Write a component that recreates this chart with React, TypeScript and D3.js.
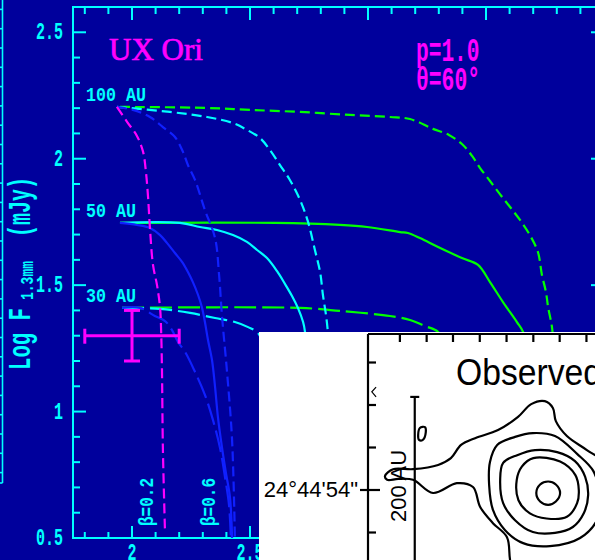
import React from 'react';
import * as d3 from 'd3';

type Pt = [number, number];

const BG = '#00009c';
const CYAN = '#00ffff';
const MAGENTA = '#ff00ff';
const GREEN = '#00ff00';
const BLUE = '#1020ff';
const MONO = "'Liberation Mono', 'Courier New', monospace";
const SERIF = "'Liberation Serif', 'Times New Roman', serif";
const SANS = "'Liberation Sans', Arial, sans-serif";

// ---- model curves, 100 AU disks (short dashes)
const r100Magenta: Pt[] = [[1.936, 2.205], [1.979, 2.146], [2.021, 2.09], [2.047, 2.027], [2.059, 1.948], [2.068, 1.849], [2.076, 1.726], [2.089, 1.58], [2.106, 1.5], [2.119, 1.41], [2.124, 1.3], [2.127, 1.164], [2.131, 0.848], [2.14, 0.52]];
const r100Blue: Pt[] = [[1.936, 2.205], [2.004, 2.193], [2.076, 2.165], [2.131, 2.125], [2.182, 2.086], [2.216, 2.027], [2.237, 1.975], [2.267, 1.916], [2.309, 1.797], [2.352, 1.686], [2.369, 1.54], [2.381, 1.382], [2.403, 1.153], [2.424, 0.888], [2.436, 0.5]];
const r100Cyan: Pt[] = [[1.936, 2.205], [2.161, 2.185], [2.318, 2.165], [2.428, 2.141], [2.487, 2.114], [2.542, 2.082], [2.585, 2.034], [2.627, 1.975], [2.669, 1.916], [2.712, 1.837], [2.746, 1.75], [2.775, 1.639], [2.797, 1.552], [2.809, 1.461], [2.822, 1.382], [2.83, 1.315], [2.84, 1.2]];
const r100Green: Pt[] = [[1.949, 2.205], [2.309, 2.201], [2.5, 2.193], [2.712, 2.185], [2.924, 2.173], [3.093, 2.165], [3.178, 2.157], [3.275, 2.118], [3.343, 2.094], [3.398, 2.058], [3.441, 2.011], [3.475, 1.963], [3.517, 1.912], [3.559, 1.86], [3.602, 1.809], [3.644, 1.758], [3.686, 1.698], [3.72, 1.631], [3.737, 1.54], [3.754, 1.473], [3.763, 1.414], [3.78, 1.331], [3.79, 1.2]];

// ---- 50 AU disks (solid)
const r50Blue: Pt[] = [[1.949, 1.746], [2.021, 1.738], [2.076, 1.726], [2.119, 1.698], [2.148, 1.667], [2.182, 1.627], [2.212, 1.592], [2.237, 1.552], [2.258, 1.512], [2.28, 1.461], [2.297, 1.41], [2.309, 1.354], [2.322, 1.283], [2.339, 1.204], [2.352, 1.097], [2.364, 0.979], [2.381, 0.86], [2.398, 0.757], [2.415, 0.662], [2.424, 0.5]];
const r50Cyan: Pt[] = [[1.949, 1.746], [2.203, 1.746], [2.288, 1.73], [2.36, 1.718], [2.428, 1.698], [2.487, 1.671], [2.53, 1.639], [2.572, 1.607], [2.614, 1.556], [2.648, 1.505], [2.678, 1.457], [2.703, 1.41], [2.725, 1.354], [2.733, 1.315], [2.74, 1.2]];
const r50Green: Pt[] = [[1.949, 1.746], [2.606, 1.746], [2.881, 1.738], [2.996, 1.73], [3.136, 1.71], [3.169, 1.706], [3.22, 1.686], [3.297, 1.651], [3.398, 1.607], [3.466, 1.58], [3.517, 1.512], [3.572, 1.433], [3.631, 1.354], [3.657, 1.315], [3.68, 1.2]];

// ---- 30 AU disks (long dashes)
const r30Blue: Pt[] = [[1.958, 1.41], [2.034, 1.41], [2.097, 1.378], [2.14, 1.358], [2.169, 1.323], [2.195, 1.275], [2.225, 1.236], [2.267, 1.157], [2.309, 1.066], [2.343, 0.967], [2.373, 0.856], [2.394, 0.741], [2.411, 0.631], [2.419, 0.5]];
const r30Cyan: Pt[] = [[1.958, 1.41], [2.119, 1.406], [2.246, 1.39], [2.352, 1.37], [2.436, 1.354], [2.492, 1.334], [2.534, 1.311], [2.56, 1.25]];
const r30Green: Pt[] = [[1.958, 1.41], [2.712, 1.41], [2.881, 1.398], [3.093, 1.378], [3.178, 1.362], [3.242, 1.338], [3.297, 1.315], [3.33, 1.25]];

const xTicks = [2, 2.5, 3, 3.5, 4];
const xTickText = ['2', '2.5', '3', '3.5', '4'];
const yTicks = [0.5, 1, 1.5, 2, 2.5];
const yTickText = ['0.5', '1', '1.5', '2', '2.5'];

const radiusText = ['100 AU', '50 AU', '30 AU'];
const radiusLogF = [2.205, 1.747, 1.41];

const betaText = ['β=0.2', 'β=0.6'];
const betaX = [2.089, 2.352];

// measured flux with error bars
const observed = { x: 2.0, y: 1.3, dx: 0.2, dy: 0.1 };

// ---- map inset, offsets in arcsec
const decTicks = [3, 2, 1, 0, -1];
const raTicks = [0.75, 1.38, 2.0, 2.63, 3.26, 3.89, 4.51, 5.14];
const cPeak: Pt[] = [[4.24, 0.2], [4.42, 0.13], [4.52, -0.07], [4.42, -0.27], [4.24, -0.35], [4.05, -0.27], [3.96, -0.07], [4.05, 0.13]];
const c2: Pt[] = [[3.89, 0.75], [4.52, 0.67], [4.88, 0.35], [4.96, 0], [4.92, -0.31], [4.68, -0.63], [4.2, -0.67], [3.81, -0.55], [3.54, -0.24], [3.5, 0.24], [3.62, 0.55]];
const c3: Pt[] = [[3.11, 0.24], [3.18, 0.64], [3.51, 0.82], [3.93, 0.94], [4.45, 0.89], [4.87, 0.68], [5.11, 0.31], [5.18, -0.12], [5.08, -0.54], [4.82, -0.87], [4.4, -1.01], [3.88, -0.99], [3.46, -0.71], [3.18, -0.31]];
const c4: Pt[] = [[2.87, 0.66], [3.04, 1.06], [3.46, 1.25], [3.88, 1.34], [4.4, 1.27], [4.92, 0.85], [5.3, 0.45], [5.45, -0.1], [5.41, -0.66], [4.99, -1.13], [4.28, -1.32], [3.65, -1.25], [3.22, -0.94], [2.94, -0.47], [2.85, 0.12]];
const cOuter: Pt[] = [[0.4, 0.33], [0.59, 0.49], [1.06, 0.49], [1.65, 0.59], [1.95, 0.75], [2.19, 1.06], [2.52, 1.22], [3.06, 1.41], [3.53, 1.72], [3.84, 2.02], [4.16, 2.09], [4.35, 1.93], [4.42, 1.62], [4.68, 1.27], [5.15, 0.94], [5.6, 0.6], [5.75, -0.3], [5.5, -1.3], [5.2, -2.0], [4.5, -2.9], [3.41, -1.88], [3.27, -1.11], [2.94, -0.78], [2.64, -0.4], [2.47, 0.07], [2.09, 0.16], [1.53, -0.07], [1.06, 0.24], [0.71, 0.26], [0.45, 0.24]];
const cBlob: Pt[] = [[1.22, 1.46], [1.34, 1.48], [1.36, 1.36], [1.29, 1.18], [1.2, 1.18], [1.18, 1.29]];
const cEdge: Pt[] = [[0.19, 2.42], [0.09, 2.31], [0.19, 2.19]];
const scaleBar = { ra: 1.1, top: 2.19, bottom: -2.6 };

function Mono(props: { x: number; y: number; text: string; size: number; cw: number; anchor?: string; rotate?: number; fill?: string }) {
  const { x, y, text, size, cw, anchor = 'start', rotate = 0, fill = CYAN } = props;
  return (
    <text
      transform={`translate(${x},${y}) rotate(${rotate})`}
      fontFamily={MONO}
      fontWeight="bold"
      fontSize={size}
      textAnchor={anchor}
      textLength={text.length * cw}
      lengthAdjust="spacingAndGlyphs"
      fill={fill}
    >
      {text}
    </text>
  );
}

export default function App() {
  const W = 595;
  const H = 560;
  const frame = { left: 73, right: 604, top: 7, bottom: 538 };
  const x = d3.scaleLinear().domain([1.75, 4.0]).range([frame.left, frame.right]);
  const y = d3.scaleLinear().domain([0.5, 2.6]).range([frame.bottom, frame.top]);
  const curve = d3.line<Pt>().x((d) => x(d[0])).y((d) => y(d[1])).curve(d3.curveCatmullRom.alpha(0.5));

  const isMajor = (v: number, arr: number[]) => arr.some((t) => Math.abs(t - v) < 1e-6);
  const minorX = d3.range(18, 41).map((v) => v / 10).filter((v) => !isMajor(v, xTicks));
  const minorY = d3.range(6, 26).map((v) => v / 10).filter((v) => !isMajor(v, yTicks));

  const SHORT = '10 5';
  const LONG = '22 6';
  const series = [
    { pts: r100Green, color: GREEN, dash: SHORT },
    { pts: r50Green, color: GREEN, dash: undefined },
    { pts: r30Green, color: GREEN, dash: LONG },
    { pts: r100Cyan, color: CYAN, dash: SHORT },
    { pts: r50Cyan, color: CYAN, dash: undefined },
    { pts: r30Cyan, color: CYAN, dash: LONG },
    { pts: r100Blue, color: BLUE, dash: SHORT },
    { pts: r50Blue, color: BLUE, dash: undefined },
    { pts: r30Blue, color: BLUE, dash: LONG },
    { pts: r100Magenta, color: MAGENTA, dash: SHORT },
  ];

  // neighbouring panel edge at far left
  const stripY = d3.scaleLinear().domain([0, 24]).range([9.4, 472.6]);
  const stripTicks = d3.range(25);

  // inset map
  const inset = { left: 259, top: 332, right: 595, bottom: 560 };
  const ux = d3.scaleLinear().domain([0, 1]).range([368, 410.5]);
  const uy = d3.scaleLinear().domain([0, 1]).range([490, 447.5]);
  const closed = d3.line<Pt>().x((d) => ux(d[0])).y((d) => uy(d[1])).curve(d3.curveCatmullRomClosed.alpha(0.5));
  const open = d3.line<Pt>().x((d) => ux(d[0])).y((d) => uy(d[1]));
  const axisX = ux(0);
  const axisY = inset.top + 2;

  return (
    <svg width={W} height={H} style={{ position: 'absolute', left: 0, top: 0, display: 'block' }}>
      <defs>
        <clipPath id="plotClip">
          <rect x={frame.left} y={frame.top} width={frame.right - frame.left} height={frame.bottom - frame.top} />
        </clipPath>
        <clipPath id="insetClip">
          <rect x={inset.left} y={inset.top} width={inset.right - inset.left} height={inset.bottom - inset.top} />
        </clipPath>
      </defs>
      <rect x={0} y={0} width={W} height={H} fill={BG} />

      {/* edge of the neighbouring panel */}
      <g stroke={CYAN} strokeWidth={1.6}>
        <line x1={2.5} x2={2.5} y1={0} y2={483} />
        <line x1={0} x2={2.5} y1={483} y2={483} />
        {stripTicks.map((k) => (
          <line key={k} x1={0} x2={2.5} y1={stripY(k)} y2={stripY(k)} />
        ))}
      </g>

      {/* frame and ticks */}
      <g stroke={CYAN} strokeWidth={2} fill="none">
        <rect x={frame.left} y={frame.top} width={frame.right - frame.left} height={frame.bottom - frame.top} />
        {xTicks.map((v) => (
          <g key={`xt${v}`}>
            <line x1={x(v)} x2={x(v)} y1={frame.bottom} y2={frame.bottom - 12} />
            <line x1={x(v)} x2={x(v)} y1={frame.top} y2={frame.top + 13} />
          </g>
        ))}
        {minorX.map((v) => (
          <g key={`xm${v}`}>
            <line x1={x(v)} x2={x(v)} y1={frame.bottom} y2={frame.bottom - 6} />
            <line x1={x(v)} x2={x(v)} y1={frame.top} y2={frame.top + 7} />
          </g>
        ))}
        {yTicks.map((v) => (
          <g key={`yt${v}`}>
            <line x1={frame.left} x2={frame.left + 13} y1={y(v)} y2={y(v)} />
            <line x1={frame.right} x2={frame.right - 13} y1={y(v)} y2={y(v)} />
          </g>
        ))}
        {minorY.map((v) => (
          <g key={`ym${v}`}>
            <line x1={frame.left} x2={frame.left + 7} y1={y(v)} y2={y(v)} />
            <line x1={frame.right} x2={frame.right - 7} y1={y(v)} y2={y(v)} />
          </g>
        ))}
      </g>

      {/* tick labels */}
      {yTicks.map((v, i) => (
        <Mono key={`yl${v}`} x={63} y={y(v) + 7} text={yTickText[i]} size={23} cw={9} anchor="end" />
      ))}
      {xTicks.map((v, i) => (
        <Mono key={`xl${v}`} x={x(v)} y={560} text={xTickText[i]} size={23} cw={9} anchor="middle" />
      ))}

      {/* axis title */}
      <Mono x={30} y={370} text="Log F" size={32} cw={12.4} rotate={-90} />
      <Mono x={33} y={300} text="1.3mm" size={19} cw={7.8} rotate={-90} />
      <Mono x={30} y={237} text="(mJy)" size={32} cw={12} rotate={-90} />

      {/* model curves */}
      <g clipPath="url(#plotClip)" fill="none">
        {series.map((s, i) => (
          <path key={i} d={curve(s.pts) || ''} stroke={s.color} strokeWidth={2.2} strokeDasharray={s.dash} />
        ))}
      </g>

      {/* curve annotations */}
      {radiusText.map((t, i) => (
        <Mono key={t} x={86} y={y(radiusLogF[i]) - 6} text={t} size={21} cw={10} />
      ))}
      {betaText.map((t, i) => (
        <Mono key={t} x={x(betaX[i])} y={frame.bottom - 12} text={t} size={20} cw={9.6} rotate={-90} />
      ))}

      {/* observed flux */}
      <g stroke={MAGENTA} strokeWidth={3}>
        <line x1={x(observed.x - observed.dx)} x2={x(observed.x + observed.dx)} y1={y(observed.y)} y2={y(observed.y)} />
        <line x1={x(observed.x)} x2={x(observed.x)} y1={y(observed.y + observed.dy)} y2={y(observed.y - observed.dy)} />
        <line x1={x(observed.x - observed.dx)} x2={x(observed.x - observed.dx)} y1={y(observed.y) - 7} y2={y(observed.y) + 8} />
        <line x1={x(observed.x + observed.dx)} x2={x(observed.x + observed.dx)} y1={y(observed.y) - 7} y2={y(observed.y) + 8} />
        <line x1={x(observed.x) - 8} x2={x(observed.x) + 8} y1={y(observed.y + observed.dy)} y2={y(observed.y + observed.dy)} />
        <line x1={x(observed.x) - 8} x2={x(observed.x) + 8} y1={y(observed.y - observed.dy)} y2={y(observed.y - observed.dy)} />
      </g>

      <text x={109} y={60} fontFamily={SERIF} fontSize={31} fill={MAGENTA} stroke={MAGENTA} strokeWidth={0.7}>UX Ori</text>
      <Mono x={416} y={61} text="p=1.0" size={33} cw={12.7} fill={MAGENTA} />
      <Mono x={416} y={90} text="θ=60°" size={33} cw={12.8} fill={MAGENTA} />

      {/* inset: observed map */}
      <rect x={inset.left} y={inset.top} width={inset.right - inset.left} height={inset.bottom - inset.top} fill="#ffffff" />
      <g clipPath="url(#insetClip)">
        <g stroke="#000" strokeWidth={2.2} fill="none">
          <line x1={axisX} x2={inset.right} y1={axisY} y2={axisY} />
          <line x1={axisX} x2={axisX} y1={axisY} y2={inset.bottom} />
          {raTicks.map((v) => (
            <line key={`ra${v}`} x1={ux(v)} x2={ux(v)} y1={axisY} y2={axisY + 8} />
          ))}
          {decTicks.map((v) => (
            <line key={`de${v}`} x1={v === 0 ? axisX - 8 : axisX} x2={axisX + (v === 0 ? 12 : 8)} y1={uy(v)} y2={uy(v)} />
          ))}
          {[cPeak, c2, c3, c4, cOuter, cBlob].map((c, i) => (
            <path key={`c${i}`} d={closed(c) || ''} />
          ))}
          <path d={open(cEdge) || ''} strokeWidth={1.2} />
          <line x1={ux(scaleBar.ra)} x2={ux(scaleBar.ra)} y1={uy(scaleBar.top)} y2={uy(scaleBar.bottom)} />
          <line x1={ux(scaleBar.ra) - 4.5} x2={ux(scaleBar.ra) + 4.5} y1={uy(scaleBar.top)} y2={uy(scaleBar.top)} />
        </g>
        <text x={axisX - 10} y={uy(0) + 7} textAnchor="end" fontFamily={SANS} fontSize={22} fill="#000">24°44'54"</text>
        <text transform={`translate(${ux(scaleBar.ra) - 9},522) rotate(-90)`} fontFamily={SANS} fontSize={22} fill="#000">200 AU</text>
        <text x={456} y={385} fontFamily={SANS} fontSize={36} textLength={146} lengthAdjust="spacingAndGlyphs" fill="#000">Observed</text>
      </g>
    </svg>
  );
}
